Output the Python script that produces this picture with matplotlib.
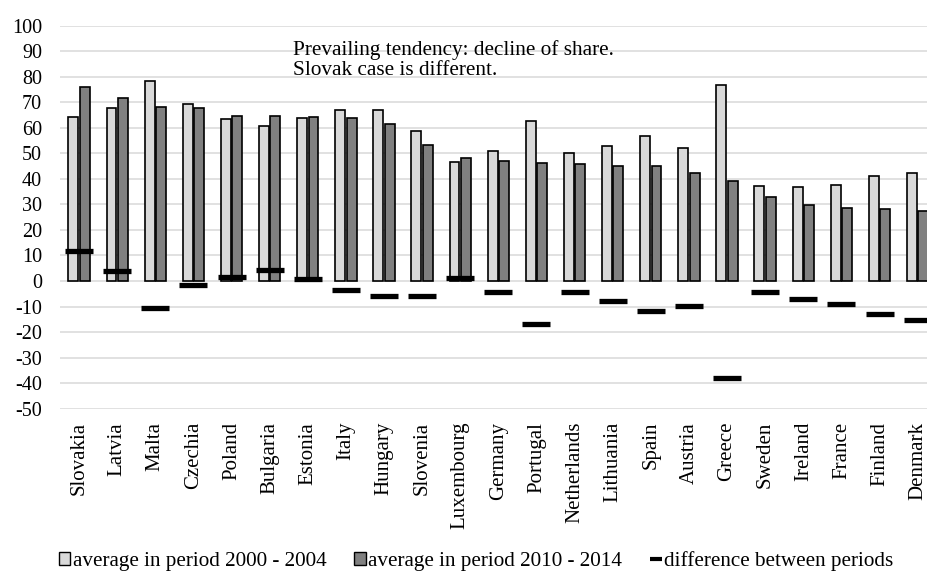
import matplotlib
matplotlib.use("Agg")
import matplotlib.pyplot as plt
import numpy as np
from matplotlib.patches import Patch
from matplotlib.lines import Line2D

countries = ["Slovakia", "Latvia", "Malta", "Czechia", "Poland", "Bulgaria", "Estonia",
             "Italy", "Hungary", "Slovenia", "Luxembourg", "Germany", "Portugal",
             "Netherlands", "Lithuania", "Spain", "Austria", "Greece", "Sweden",
             "Ireland", "France", "Finland", "Denmark"]
avg_2000_2004 = [64.1, 67.8, 78.3, 69.3, 63.3, 60.7, 63.7, 67.1, 67.0, 58.9, 46.6, 51.0,
                 62.8, 50.1, 53.0, 56.7, 52.1, 76.9, 37.2, 36.8, 37.6, 41.0, 42.3]
avg_2010_2014 = [75.8, 71.8, 68.0, 67.6, 64.8, 64.8, 64.2, 63.7, 61.4, 53.1, 48.0, 47.0,
                 46.1, 46.0, 45.2, 45.0, 42.3, 39.2, 32.9, 29.9, 28.7, 28.1, 27.4]
difference = [11.9, 3.9, -10.5, -1.7, 1.6, 4.2, 0.7, -3.5, -5.7, -5.8, 1.3, -4.2,
              -16.7, -4.2, -7.8, -11.9, -9.8, -37.9, -4.3, -7.2, -9.1, -13.0, -15.2]
yticks = list(range(-50, 101, 10))
labels = ["average in period 2000 - 2004", "average in period 2010 - 2014",
          "difference between periods"]
note = "Prevailing tendency: decline of share.\nSlovak case is different."

plt.rcParams['font.family'] = ['Liberation Serif', 'DejaVu Serif']

fig = plt.figure(figsize=(9.28, 5.78), dpi=100)
W, H = 928, 578
ax = fig.add_axes([60 / W, 1 - 408.7 / H, (936.7 - 60) / W, (408.7 - 25.7) / H])

x = np.arange(len(countries))
bw = 0.26
light = "#d9d9d9"
dark = "#808080"
ax.bar(x - 0.15, avg_2000_2004, width=bw, color=light, edgecolor="black", linewidth=1.2, zorder=3)
ax.bar(x + 0.15, avg_2010_2014, width=bw, color=dark, edgecolor="black", linewidth=1.2, zorder=3)
ax.plot(x, difference, linestyle="none", marker="_", markersize=19.5, markeredgewidth=3.8,
        color="black", zorder=4)

ax.set_xlim(-0.5, len(countries) - 0.5)
ax.set_ylim(-50, 100)
ax.set_yticks(yticks)
ax.set_yticklabels([str(v) for v in yticks], fontsize=14.5)
ax.set_xticks(x)
ax.set_xticklabels(countries, rotation=90, fontsize=15, va="top", ha="center")
ax.tick_params(axis="y", length=0, pad=13)
ax.tick_params(axis="x", length=0, pad=9.5)
ax.yaxis.grid(True, color="#d9d9d9", linewidth=1.1, zorder=0)
ax.set_axisbelow(True)
for s in ax.spines.values():
    s.set_visible(False)

fig.text(293 / W, 1 - 40 / H, note, fontsize=15.3, va="top", ha="left", linespacing=1.08)

handles = [Patch(facecolor=light, edgecolor="black", linewidth=1.0),
           Patch(facecolor=dark, edgecolor="black", linewidth=1.0),
           Line2D([], [], color="black", marker="_", linestyle="none", markersize=8, markeredgewidth=3)]
fig.legend(handles, labels, loc="center", bbox_to_anchor=(476 / W, 1 - 561 / H), ncol=3,
           frameon=False, fontsize=15.2, handlelength=0.55, handleheight=0.55, handletextpad=0.12,
           columnspacing=1.3, borderaxespad=0)

fig.savefig("out.png", dpi=100)
